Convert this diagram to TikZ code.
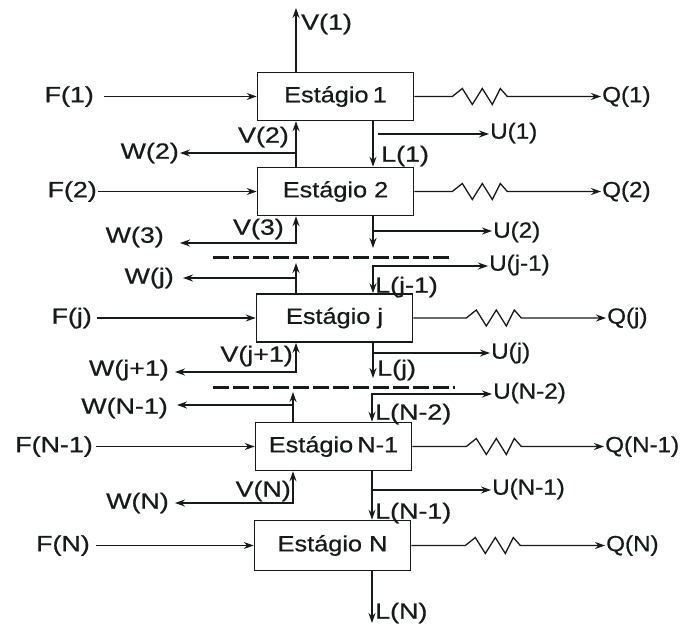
\documentclass[tikz,border=0pt]{standalone}
\usepackage{fontspec}
\setmainfont{Liberation Sans}
\newfontfamily\lblfont{Liberation Sans}[FakeBold=0.6]
\usetikzlibrary{arrows.meta}
\definecolor{ink}{RGB}{22,26,26}
% horizontally widened text for stream labels and stage names
\newcommand{\wtext}[1]{\scalebox{1.22}[1]{#1}}
\newcommand{\ntext}[1]{\scalebox{1.1}[1]{#1}}
\newcommand{\btext}[1]{\scalebox{1.15}[1]{#1}}

\begin{document}
\begin{tikzpicture}[x=1pt,y=-1pt,
  every node/.style={font=\lblfont\fontsize{22}{26}\selectfont, text=ink, inner sep=1pt},
  stage/.style={draw=ink, line width=1.6pt, minimum width=156pt, minimum height=48pt, inner sep=0pt},
  flow/.style={draw=ink, line width=1.3pt, -{Stealth[length=10pt,width=7pt]}},
  twoway/.style={draw=ink, line width=1.3pt, {Stealth[length=10pt,width=7pt]}-{Stealth[length=10pt,width=7pt]}},
  cut/.style={draw=ink, line width=3pt, dash pattern=on 16pt off 4pt},
]
\useasboundingbox (0,0) rectangle (684,628);

% columns of the vapour (up) and liquid (down) streams
\coordinate (vx) at (296,0);
\coordinate (vxl) at (293,0);
\coordinate (lx) at (373,0);
\coordinate (lxl) at (372,0);

% stages
\node[stage] (s1)  at (335.5,96.5) {\btext{Estágio\,1}};
\node[stage] (s2)  at (335.5,191.5) {\btext{Estágio 2}};
\node[stage] (sj)  at (334.5,318) {\btext{Estágio j}};
\node[stage] (sn1) at (333.5,446.5) {\btext{Estágio\,N-1}};
\node[stage, minimum height=50pt] (sn) at (332.5,545.5) {\btext{Estágio N}};

% feeds
\node[anchor=east] (f1)  at (95,96.5)  {\wtext{F(1)}};
\node[anchor=east] (f2)  at (98,191.5) {\wtext{F(2)}};
\node[anchor=east] (fj)  at (93,318)   {\wtext{F(j)}};
\node[anchor=east] (fn1) at (94,446.5) {\wtext{F(N-1)}};
\node[anchor=east] (fn)  at (91,545.5) {\wtext{F(N)}};
\draw[flow] ([xshift=9pt]f1.east) -- (s1.west);
\draw[flow] (f2.east) -- (s2.west);
\draw[flow] ([xshift=4pt]fj.east) -- (sj.west);
\draw[flow] ([xshift=2pt]fn1.east) -- (sn1.west);
\draw[flow] ([xshift=5pt]fn.east) -- (sn.west);

% heat duties
\node[anchor=west] (q1)  at (601,96.5)  {\ntext{Q(1)}};
\node[anchor=west] (q2)  at (601,191.5) {\ntext{Q(2)}};
\node[anchor=west] (qj)  at (606,318)   {\ntext{Q(j)}};
\node[anchor=west] (qn1) at (604,446.5) {\ntext{Q(N-1)}};
\node[anchor=west] (qn)  at (605,545.5) {\ntext{Q(N)}};
\draw[flow] (s1.east) -- ++(38,0) -- ++(10,-8) -- ++(10,16) -- ++(10,-16) -- ++(10,16) -- ++(8,-16) -- ++(7,8) -- (q1.west);
\draw[flow] (s2.east) -- ++(38,0) -- ++(10,-8) -- ++(10,16) -- ++(10,-16) -- ++(10,16) -- ++(8,-16) -- ++(7,8) -- (q2.west);
\draw[flow] (sj.east) -- ++(53,0) -- ++(10,-8) -- ++(10,16) -- ++(10,-16) -- ++(10,16) -- ++(8,-16) -- ++(7,8) -- (qj.west);
\draw[flow] (sn1.east) -- ++(54,0) -- ++(10,-8) -- ++(10,16) -- ++(10,-16) -- ++(10,16) -- ++(8,-16) -- ++(7,8) -- (qn1.west);
\draw[flow] (sn.east) -- ++(54,0) -- ++(10,-8) -- ++(10,16) -- ++(10,-16) -- ++(10,16) -- ++(8,-16) -- ++(7,8) -- (qn.west);

% top vapour product
\coordinate (v1tip) at (296,8);
\node[anchor=west] (v1) at (300,24) {\wtext{V(1)}};
\draw[flow] (vx |- s1.north) -- (v1tip);

% vapour streams and side draws W
\node[anchor=east] (v2) at (290,137) {\wtext{V(2)}};
\node[anchor=east] (v3) at (285,229) {\wtext{V(3)}};
\node[anchor=east] (vj1) at (294,356) {\wtext{V(j+1)}};
\node[anchor=east] (vn) at (292,491) {\wtext{V(N)}};

\node[anchor=east] (w2)  at (180,153) {\wtext{W(2)}};
\node[anchor=east] (w3)  at (165,237) {\wtext{W(3)}};
\node[anchor=east] (wj)  at (175,278) {\wtext{W(j)}};
\node[anchor=east] (wj1) at (170,370) {\wtext{W(j+1)}};
\node[anchor=east] (wn1) at (169,408) {\wtext{W(N-1)}};
\node[anchor=east] (wn)  at (170,503) {\wtext{W(N)}};

\coordinate (w2c)  at (296,153);
\coordinate (w3c)  at (296,243);
\coordinate (wjc)  at (296,278);
\coordinate (vjtip) at (296,263);
\coordinate (wj1c) at (296,372);
\coordinate (wn1c) at (293,405);
\coordinate (vn1tip) at (293,392);
\coordinate (wnc)  at (293,503);
\coordinate (w3tip)  at (180,243);
\coordinate (wjtip)  at (183,278);
\coordinate (wj1tip) at (175,372);
\coordinate (wn1tip) at (177,405);
\coordinate (wntip)  at (175,503);

\draw[flow] (vx |- s2.north) -- (vx |- s1.south);
\draw[flow] (w2c) -- (w2.east);
\draw[twoway] (w3tip) -- (w3c) -- (vx |- s2.south);
\draw[flow] (vx |- sj.north) -- (vjtip);
\draw[flow] (wjc) -- (wjtip);
\draw[twoway] (wj1tip) -- (wj1c) -- (vx |- sj.south);
\draw[flow] (vxl |- sn1.north) -- (vn1tip);
\draw[flow] (wn1c) -- (wn1tip);
\draw[twoway] (wntip) -- (wnc) -- (vxl |- sn1.south);

% liquid streams and side draws U
\node[anchor=west] (l1)  at (380,156) {\wtext{L(1)}};
\node[anchor=west] (lj0) at (374,287) {\wtext{L(j-1)}};
\node[anchor=west] (lj)  at (376,370) {\wtext{L(j)}};
\node[anchor=west] (ln2) at (374,414) {\wtext{L(N-2)}};
\node[anchor=west] (ln1) at (374,513) {\wtext{L(N-1)}};
\node[anchor=west] (ln)  at (374,613) {\wtext{L(N)}};

\node[anchor=west] (u1)  at (489,133) {\ntext{U(1)}};
\node[anchor=west] (u2)  at (492,232) {\ntext{U(2)}};
\node[anchor=west] (uj0) at (488,265) {\ntext{U(j-1)}};
\node[anchor=west] (uj)  at (490,353) {\ntext{U(j)}};
\node[anchor=west] (un2) at (492,393) {\ntext{U(N-2)}};
\node[anchor=west] (un1) at (491,489) {\ntext{U(N-1)}};

\coordinate (u1c)  at (378,134);
\coordinate (u2c)  at (373,231);
\coordinate (l2tip) at (373,248);
\coordinate (uj0c) at (373,266);
\coordinate (ujc)  at (373,353);
\coordinate (ljtip) at (373,378);
\coordinate (un2c) at (372,394);
\coordinate (un1c) at (372,490);
\coordinate (lntip) at (372,623);

\draw[flow] (lx |- s1.south) -- (lx |- s2.north);
\draw[flow] (u1c) -- (u1c -| u1.west);
\draw[flow] (lx |- s2.south) -- (l2tip);
\draw[flow] (u2c) -- (u2c -| u2.west);
\draw[twoway] (uj0c -| uj0.west) -- (uj0c) -- (lx |- sj.north);
\draw[flow] (lx |- sj.south) -- (ljtip);
\draw[flow] (ujc) -- (ujc -| uj.west);
\draw[twoway] (un2c -| un2.west) -- (un2c) -- (lxl |- sn1.north);
\draw[flow] (lxl |- sn1.south) -- (lxl |- sn.north);
\draw[flow] (un1c) -- (un1c -| un1.west);
\draw[flow] (lxl |- sn.south) -- (lntip);

% omitted stages between 2 and j, and between j and N-1
\draw[cut] (213,257) -- (452,257);
\draw[cut] (213,387) -- (455,387);
\end{tikzpicture}
\end{document}
